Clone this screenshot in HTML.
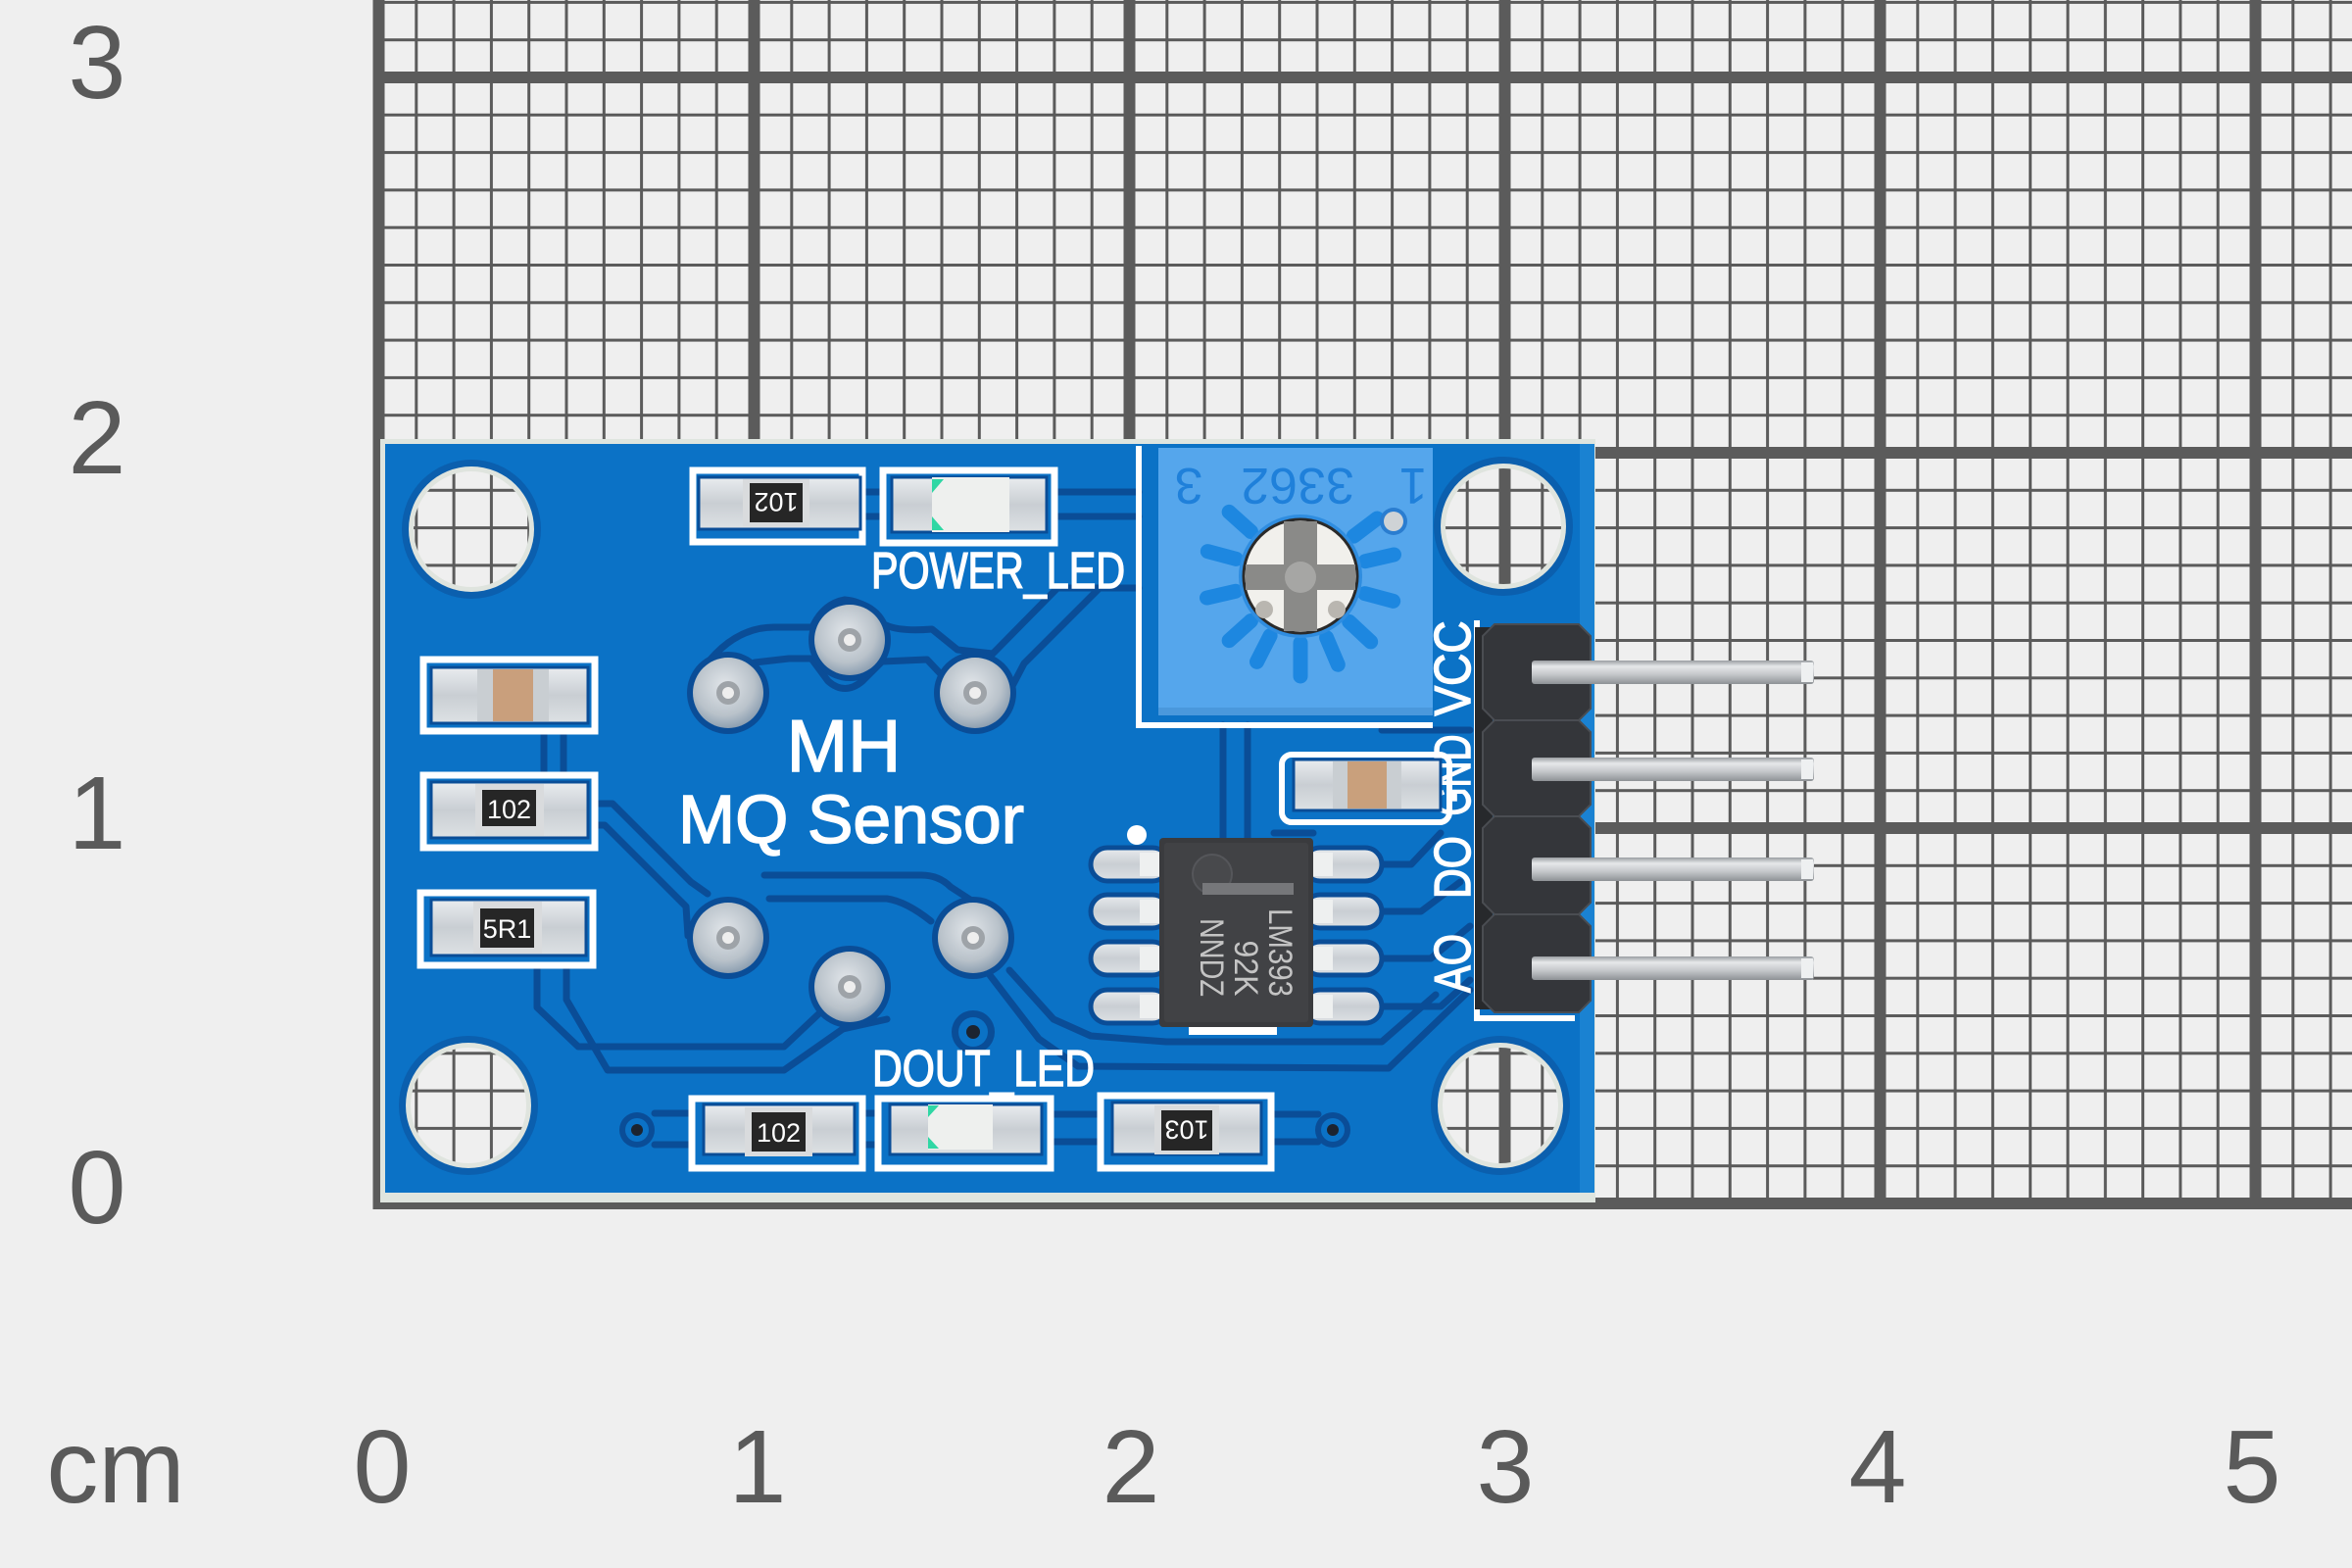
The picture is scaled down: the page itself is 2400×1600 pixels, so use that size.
<!DOCTYPE html>
<html><head><meta charset="utf-8"><style>
html,body{margin:0;padding:0;background:#efefef;overflow:hidden}
svg{display:block}
</style></head><body>
<svg width="2400" height="1600" viewBox="0 0 2400 1600" xmlns="http://www.w3.org/2000/svg" font-family="'Liberation Sans', Arial, sans-serif">
<defs>
<pattern id="g" patternUnits="userSpaceOnUse" x="380.5" y="73" width="383" height="383">
<rect width="383" height="383" fill="#efefef"/>
<g fill="#5b5b5b">
<rect x="0" y="0" width="12" height="383"/><rect x="0" y="0" width="383" height="12"/>
<rect x="42.8" y="0" width="3" height="383"/><rect x="81.1" y="0" width="3" height="383"/><rect x="119.4" y="0" width="3" height="383"/><rect x="157.7" y="0" width="3" height="383"/><rect x="196" y="0" width="3" height="383"/><rect x="234.3" y="0" width="3" height="383"/><rect x="272.6" y="0" width="3" height="383"/><rect x="310.9" y="0" width="3" height="383"/><rect x="349.2" y="0" width="3" height="383"/>
<rect y="42.8" x="0" height="3" width="383"/><rect y="81.1" x="0" height="3" width="383"/><rect y="119.4" x="0" height="3" width="383"/><rect y="157.7" x="0" height="3" width="383"/><rect y="196" x="0" height="3" width="383"/><rect y="234.3" x="0" height="3" width="383"/><rect y="272.6" x="0" height="3" width="383"/><rect y="310.9" x="0" height="3" width="383"/><rect y="349.2" x="0" height="3" width="383"/>
</g>
</pattern>
<linearGradient id="sv" x1="0" y1="0" x2="0" y2="1"><stop offset="0" stop-color="#e9ecef"/><stop offset="0.5" stop-color="#c9ced3"/><stop offset="1" stop-color="#dde1e4"/></linearGradient>
<linearGradient id="pg" x1="0" y1="0" x2="0" y2="1"><stop offset="0" stop-color="#9a9ea2"/><stop offset="0.25" stop-color="#e6e8ea"/><stop offset="0.6" stop-color="#c4c7ca"/><stop offset="1" stop-color="#8e9296"/></linearGradient>
<radialGradient id="pad" cx="0.45" cy="0.4" r="0.6"><stop offset="0" stop-color="#e2e6ea"/><stop offset="0.7" stop-color="#b9c2ca"/><stop offset="1" stop-color="#8ea0b2"/></radialGradient>
</defs>

<rect width="2400" height="1600" fill="#efefef"/>
<rect x="380.5" y="0" width="2019.5" height="1234" fill="url(#g)"/>

<g fill="#5a5a5a" font-size="106" text-anchor="middle">
<text x="99" y="100">3</text>
<text x="99" y="483">2</text>
<text x="99" y="866">1</text>
<text x="99" y="1248">0</text>
<text x="390" y="1533">0</text>
<text x="773" y="1533">1</text>
<text x="1154" y="1533">2</text>
<text x="1536" y="1533">3</text>
<text x="1916" y="1533">4</text>
<text x="2298" y="1533">5</text>
<text x="118" y="1533">cm</text>
</g>

<rect x="388" y="448" width="1240" height="779" fill="#dfe5df"/>
<rect x="393" y="453" width="1234" height="764" fill="#0b72c6"/>
<rect x="1612" y="453" width="15" height="764" fill="#1a82d2"/>

<g fill="none" stroke="#0a4d97" stroke-width="7" stroke-linejoin="round" stroke-linecap="round">
<path d="M883,502 L898,502 M883,527 L898,527 M1079,502 L1162,502 M1079,527 L1162,527"/>
<path d="M712,690 Q745,640 790,640 L829,640 Q840,616 862,612 Q886,614 900,636 Q915,645 951,642 L977,663 L1013,667 L1079,600 L1162,600"/>
<path d="M770,676 L805,672 L828,672 L845,695 Q862,710 880,695 L900,675 L946,673 L962,690"/>
<path d="M1122,600 L1045,677 L1033,700"/>
<path d="M555,749 L555,788 M575,749 L575,788"/>
<path d="M610,820 L625,820 L705,900 L722,912"/>
<path d="M610,842 L617,842 L700,925 L702,955"/>
<path d="M780,893 L940,893 Q958,893 970,905 L990,918"/>
<path d="M785,917 L905,917 Q925,920 950,940"/>
<path d="M1030,990 L1075,1040 L1113,1057 L1190,1063 L1410,1063 L1465,1015"/>
<path d="M1010,995 L1060,1060 L1100,1088 L1417,1090 L1500,1010"/>
<path d="M548,988 L548,1028 L590,1068 L800,1068 L835,1035"/>
<path d="M578,988 L578,1020 L620,1092 L800,1092 L860,1050 L905,1040"/>
<path d="M668,1136 L703,1136 M668,1168 L703,1168 M883,1136 L896,1136 M883,1168 L896,1168 M1075,1137 L1123,1137 M1075,1165 L1123,1165 M1297,1137 L1345,1137 M1297,1165 L1345,1165"/>
<path d="M1248,740 L1248,855 M1273,740 L1273,855"/>
<path d="M1405,882 L1440,882 L1470,850 M1405,930 L1450,930 L1490,900 M1405,978 L1460,978 L1500,945 M1405,1027 L1470,1027 L1500,1000"/>
<path d="M1410,745 L1500,745 M1340,850 L1300,850"/>
</g>

<g>
<circle cx="650" cy="1153" r="18" fill="#0a4d97"/><circle cx="650" cy="1153" r="12" fill="#0b72c6"/><circle cx="650" cy="1153" r="6" fill="#1c2430"/>
<circle cx="1360" cy="1153" r="18" fill="#0a4d97"/><circle cx="1360" cy="1153" r="12" fill="#0b72c6"/><circle cx="1360" cy="1153" r="6" fill="#1c2430"/>
<circle cx="993" cy="1053" r="22" fill="#0a4d97"/><circle cx="993" cy="1053" r="15" fill="#0b72c6"/><circle cx="993" cy="1053" r="7" fill="#1c2430"/>
</g>

<g>
<circle cx="481" cy="540" r="71" fill="#0b5fae"/><circle cx="481" cy="540" r="64" fill="#dfe4de"/><circle cx="481" cy="540" r="59" fill="url(#g)"/>
<circle cx="1534" cy="537" r="71" fill="#0b5fae"/><circle cx="1534" cy="537" r="64" fill="#dfe4de"/><circle cx="1534" cy="537" r="59" fill="url(#g)"/>
<circle cx="478" cy="1128" r="71" fill="#0b5fae"/><circle cx="478" cy="1128" r="64" fill="#dfe4de"/><circle cx="478" cy="1128" r="59" fill="url(#g)"/>
<circle cx="1531" cy="1128" r="71" fill="#0b5fae"/><circle cx="1531" cy="1128" r="64" fill="#dfe4de"/><circle cx="1531" cy="1128" r="59" fill="url(#g)"/>
</g>

<g>
<circle cx="743" cy="707" r="42" fill="#0a4d97"/><circle cx="743" cy="707" r="36" fill="url(#pad)"/><circle cx="743" cy="707" r="12" fill="#9ea3a8"/><circle cx="743" cy="707" r="6" fill="#eeeeee"/>
<circle cx="867" cy="653" r="42" fill="#0a4d97"/><circle cx="867" cy="653" r="36" fill="url(#pad)"/><circle cx="867" cy="653" r="12" fill="#9ea3a8"/><circle cx="867" cy="653" r="6" fill="#eeeeee"/>
<circle cx="995" cy="707" r="42" fill="#0a4d97"/><circle cx="995" cy="707" r="36" fill="url(#pad)"/><circle cx="995" cy="707" r="12" fill="#9ea3a8"/><circle cx="995" cy="707" r="6" fill="#eeeeee"/>
<circle cx="743" cy="957" r="42" fill="#0a4d97"/><circle cx="743" cy="957" r="36" fill="url(#pad)"/><circle cx="743" cy="957" r="12" fill="#9ea3a8"/><circle cx="743" cy="957" r="6" fill="#eeeeee"/>
<circle cx="993" cy="957" r="42" fill="#0a4d97"/><circle cx="993" cy="957" r="36" fill="url(#pad)"/><circle cx="993" cy="957" r="12" fill="#9ea3a8"/><circle cx="993" cy="957" r="6" fill="#eeeeee"/>
<circle cx="867" cy="1007" r="42" fill="#0a4d97"/><circle cx="867" cy="1007" r="36" fill="url(#pad)"/><circle cx="867" cy="1007" r="12" fill="#9ea3a8"/><circle cx="867" cy="1007" r="6" fill="#eeeeee"/>
</g>

<g fill="#ffffff" stroke="#ffffff" stroke-width="1.5">
<text x="861" y="787" font-size="75" text-anchor="middle">MH</text>
<text x="692" y="860" font-size="70" textLength="353" lengthAdjust="spacingAndGlyphs">MQ Sensor</text>
<text x="889" y="600" font-size="52" textLength="259" lengthAdjust="spacingAndGlyphs">POWER_LED</text>
<text x="890" y="1108" font-size="52" textLength="227" lengthAdjust="spacingAndGlyphs">DOUT_LED</text>
<text transform="translate(1500,682) rotate(-90)" font-size="52" text-anchor="middle" textLength="97" lengthAdjust="spacingAndGlyphs">VCC</text>
<text transform="translate(1500,791) rotate(-90)" font-size="52" text-anchor="middle" textLength="83" lengthAdjust="spacingAndGlyphs">GND</text>
<text transform="translate(1500,885) rotate(-90)" font-size="52" text-anchor="middle" textLength="64" lengthAdjust="spacingAndGlyphs">DO</text>
<text transform="translate(1500,983) rotate(-90)" font-size="52" text-anchor="middle" textLength="60" lengthAdjust="spacingAndGlyphs">AO</text>
</g>
<path d="M1507,633 L1507,1039 L1607,1039" fill="none" stroke="#ffffff" stroke-width="6"/>
<circle cx="1160" cy="852" r="10" fill="#ffffff"/>
<rect x="1213" y="1046" width="90" height="10" fill="#ffffff"/>

<g>
<rect x="432" y="673" width="175" height="73" fill="none" stroke="#fff" stroke-width="7"/>
<rect x="440" y="681" width="160" height="57" fill="url(#sv)" stroke="#0a4d97" stroke-width="3"/>
<rect x="487" y="683" width="16" height="53" fill="#c9ced2"/><rect x="544" y="683" width="16" height="53" fill="#c9ced2"/>
<rect x="503" y="683" width="41" height="53" fill="#c99f7c"/>

<rect x="432" y="791" width="175" height="74" fill="none" stroke="#fff" stroke-width="7"/>
<rect x="440" y="798" width="160" height="57" fill="url(#sv)" stroke="#0a4d97" stroke-width="3"/>
<rect x="485" y="800" width="70" height="53" fill="#d9dbdd"/>
<rect x="492" y="806" width="55" height="37" fill="#262626"/>
<text x="519.5" y="835" font-size="27" fill="#fff" text-anchor="middle">102</text>

<rect x="429" y="911" width="176" height="74" fill="none" stroke="#fff" stroke-width="7"/>
<rect x="440" y="918" width="158" height="57" fill="url(#sv)" stroke="#0a4d97" stroke-width="3"/>
<rect x="483" y="920" width="70" height="53" fill="#d9dbdd"/>
<rect x="490" y="927" width="55" height="40" fill="#262626"/>
<text x="517.5" y="957" font-size="27" fill="#fff" text-anchor="middle">5R1</text>
</g>

<g>
<rect x="707" y="480" width="173" height="73" fill="none" stroke="#fff" stroke-width="7"/>
<rect x="713" y="487" width="165" height="53" fill="url(#sv)" stroke="#0a4d97" stroke-width="3"/>
<rect x="758" y="489" width="68" height="48" fill="#d9dbdd"/>
<rect x="765" y="493" width="54" height="40" fill="#262626"/>
<text transform="translate(792,503) rotate(180)" font-size="27" fill="#fff" text-anchor="middle">102</text>

<rect x="901" y="480" width="175" height="74" fill="none" stroke="#fff" stroke-width="7"/>
<rect x="910" y="487" width="158" height="56" fill="url(#sv)" stroke="#0a4d97" stroke-width="3"/>
<rect x="951" y="487" width="79" height="56" fill="#eef0ee"/>
<polygon points="951,489 963,489 951,503" fill="#2fd7a4"/>
<polygon points="951,541 963,541 951,527" fill="#2fd7a4"/>
</g>

<g>
<rect x="706" y="1121" width="174" height="71" fill="none" stroke="#fff" stroke-width="7"/>
<rect x="718" y="1127" width="154" height="51" fill="url(#sv)" stroke="#0a4d97" stroke-width="3"/>
<rect x="760" y="1130" width="69" height="50" fill="#d9dbdd"/>
<rect x="767" y="1135" width="55" height="40" fill="#262626"/>
<text x="794.5" y="1165" font-size="27" fill="#fff" text-anchor="middle">102</text>

<rect x="896" y="1121" width="176" height="71" fill="none" stroke="#fff" stroke-width="7"/>
<rect x="908" y="1127" width="155" height="51" fill="url(#sv)" stroke="#0a4d97" stroke-width="3"/>
<rect x="947" y="1127" width="66" height="46" fill="#eef0ee"/>
<polygon points="947,1128 958,1128 947,1140" fill="#2fd7a4"/>
<polygon points="947,1172 958,1172 947,1160" fill="#2fd7a4"/>

<rect x="1123" y="1118" width="174" height="74" fill="none" stroke="#fff" stroke-width="7"/>
<rect x="1135" y="1125" width="152" height="53" fill="url(#sv)" stroke="#0a4d97" stroke-width="3"/>
<rect x="1178" y="1128" width="66" height="50" fill="#d9dbdd"/>
<rect x="1185" y="1133" width="52" height="41" fill="#262626"/>
<text transform="translate(1211,1143.5) rotate(180)" font-size="27" fill="#fff" text-anchor="middle">103</text>
</g>

<g>
<rect x="1308" y="770" width="171" height="69" rx="10" fill="none" stroke="#fff" stroke-width="6"/>
<rect x="1320" y="775" width="150" height="52" fill="url(#sv)" stroke="#0a4d97" stroke-width="3"/>
<rect x="1360" y="777" width="15" height="48" fill="#c9ced2"/><rect x="1415" y="777" width="15" height="48" fill="#c9ced2"/>
<rect x="1375" y="777" width="40" height="48" fill="#c9a07c"/>
</g>

<g>
<path d="M1162,455 L1162,740 L1462,740" fill="none" stroke="#fff" stroke-width="6"/>
<rect x="1182" y="457" width="280" height="273" fill="#55a6ec"/>
<rect x="1182" y="722" width="280" height="8" fill="#4a98dc"/>
<g stroke="#1d87e0" stroke-width="15" stroke-linecap="round" transform="translate(1327,588)">
<line x1="68" y1="0" x2="98" y2="0" transform="rotate(-138)"/>
<line x1="68" y1="0" x2="98" y2="0" transform="rotate(-165)"/>
<line x1="68" y1="0" x2="98" y2="0" transform="rotate(167)"/>
<line x1="68" y1="0" x2="98" y2="0" transform="rotate(138)"/>
<line x1="68" y1="0" x2="98" y2="0" transform="rotate(117)"/>
<line x1="68" y1="0" x2="102" y2="0" transform="rotate(90)"/>
<line x1="68" y1="0" x2="98" y2="0" transform="rotate(67)"/>
<line x1="68" y1="0" x2="98" y2="0" transform="rotate(43)"/>
<line x1="68" y1="0" x2="98" y2="0" transform="rotate(15)"/>
<line x1="68" y1="0" x2="98" y2="0" transform="rotate(-13)"/>
<line x1="68" y1="0" x2="98" y2="0" transform="rotate(-37)"/>
</g>
<circle cx="1327" cy="588" r="63" fill="#2f8de0"/>
<circle cx="1327" cy="588" r="58" fill="#f1f0ec" stroke="#2a2a2a" stroke-width="3"/>
<rect x="1310" y="532" width="34" height="112" fill="#8a8a88"/>
<rect x="1271" y="576" width="112" height="26" fill="#8a8a88"/>
<circle cx="1327" cy="589" r="16" fill="#a6a6a4"/>
<circle cx="1290" cy="622" r="9" fill="#b9b6b0"/><circle cx="1364" cy="622" r="9" fill="#b9b6b0"/>
<circle cx="1422" cy="532" r="14" fill="#2a7dd0"/><circle cx="1422" cy="532" r="10" fill="#cfd3d6"/>
<g fill="#1f80da" font-size="52" text-anchor="middle">
<text transform="translate(1324,478) rotate(180)">3362</text>
<text transform="translate(1442,478) rotate(180)">1</text>
<text transform="translate(1213,478) rotate(180)">3</text>
</g>
</g>

<g>
<g fill="url(#sv)" stroke="#0a4d97" stroke-width="5">
<rect x="1113" y="865" width="80" height="34" rx="17"/>
<rect x="1113" y="913" width="80" height="34" rx="17"/>
<rect x="1113" y="961" width="80" height="34" rx="17"/>
<rect x="1113" y="1010" width="80" height="34" rx="17"/>
<rect x="1330" y="865" width="80" height="34" rx="17"/>
<rect x="1330" y="913" width="80" height="34" rx="17"/>
<rect x="1330" y="961" width="80" height="34" rx="17"/>
<rect x="1330" y="1010" width="80" height="34" rx="17"/>
</g>
<g fill="#eef0f0">
<rect x="1163" y="870" width="22" height="24"/><rect x="1163" y="918" width="22" height="24"/><rect x="1163" y="966" width="22" height="24"/><rect x="1163" y="1015" width="22" height="24"/>
<rect x="1338" y="870" width="22" height="24"/><rect x="1338" y="918" width="22" height="24"/><rect x="1338" y="966" width="22" height="24"/><rect x="1338" y="1015" width="22" height="24"/>
</g>
<rect x="1183" y="855" width="157" height="193" rx="4" fill="#3a3b3e"/>
<rect x="1188" y="860" width="147" height="183" rx="3" fill="#414245"/>
<circle cx="1237" cy="892" r="20" fill="#48494c" stroke="#55565a" stroke-width="2"/>
<rect x="1227" y="901" width="93" height="12" fill="#76777a"/>
<g fill="#c4c4c4" font-size="34" text-anchor="middle">
<text transform="translate(1295,972) rotate(90)" textLength="90" lengthAdjust="spacingAndGlyphs">LM393</text>
<text transform="translate(1260,988) rotate(90)" textLength="57" lengthAdjust="spacingAndGlyphs">92K</text>
<text transform="translate(1225,977) rotate(90)" textLength="80" lengthAdjust="spacingAndGlyphs">NNDZ</text>
</g>
</g>

<g>
<rect x="1505" y="640" width="18" height="390" fill="#27292c"/>
<g fill="#34363a" stroke="#4a4d52" stroke-width="2">
<polygon points="1525,637 1611,637 1623,649 1623,723 1611,735 1525,735 1513,723 1513,649"/>
<polygon points="1525,735 1611,735 1623,747 1623,821 1611,833 1525,833 1513,821 1513,747"/>
<polygon points="1525,833 1611,833 1623,845 1623,921 1611,933 1525,933 1513,921 1513,845"/>
<polygon points="1525,933 1611,933 1623,945 1623,1021 1611,1033 1525,1033 1513,1021 1513,945"/>
</g>
<g fill="url(#pg)">
<rect x="1563" y="674" width="288" height="24" rx="3"/>
<rect x="1563" y="773" width="288" height="24" rx="3"/>
<rect x="1563" y="875" width="288" height="24" rx="3"/>
<rect x="1563" y="976" width="288" height="24" rx="3"/>
</g>
<g fill="#eef0f1">
<rect x="1838" y="676" width="12" height="20"/>
<rect x="1838" y="775" width="12" height="20"/>
<rect x="1838" y="877" width="12" height="20"/>
<rect x="1838" y="978" width="12" height="20"/>
</g>
</g>
</svg>
</body></html>
